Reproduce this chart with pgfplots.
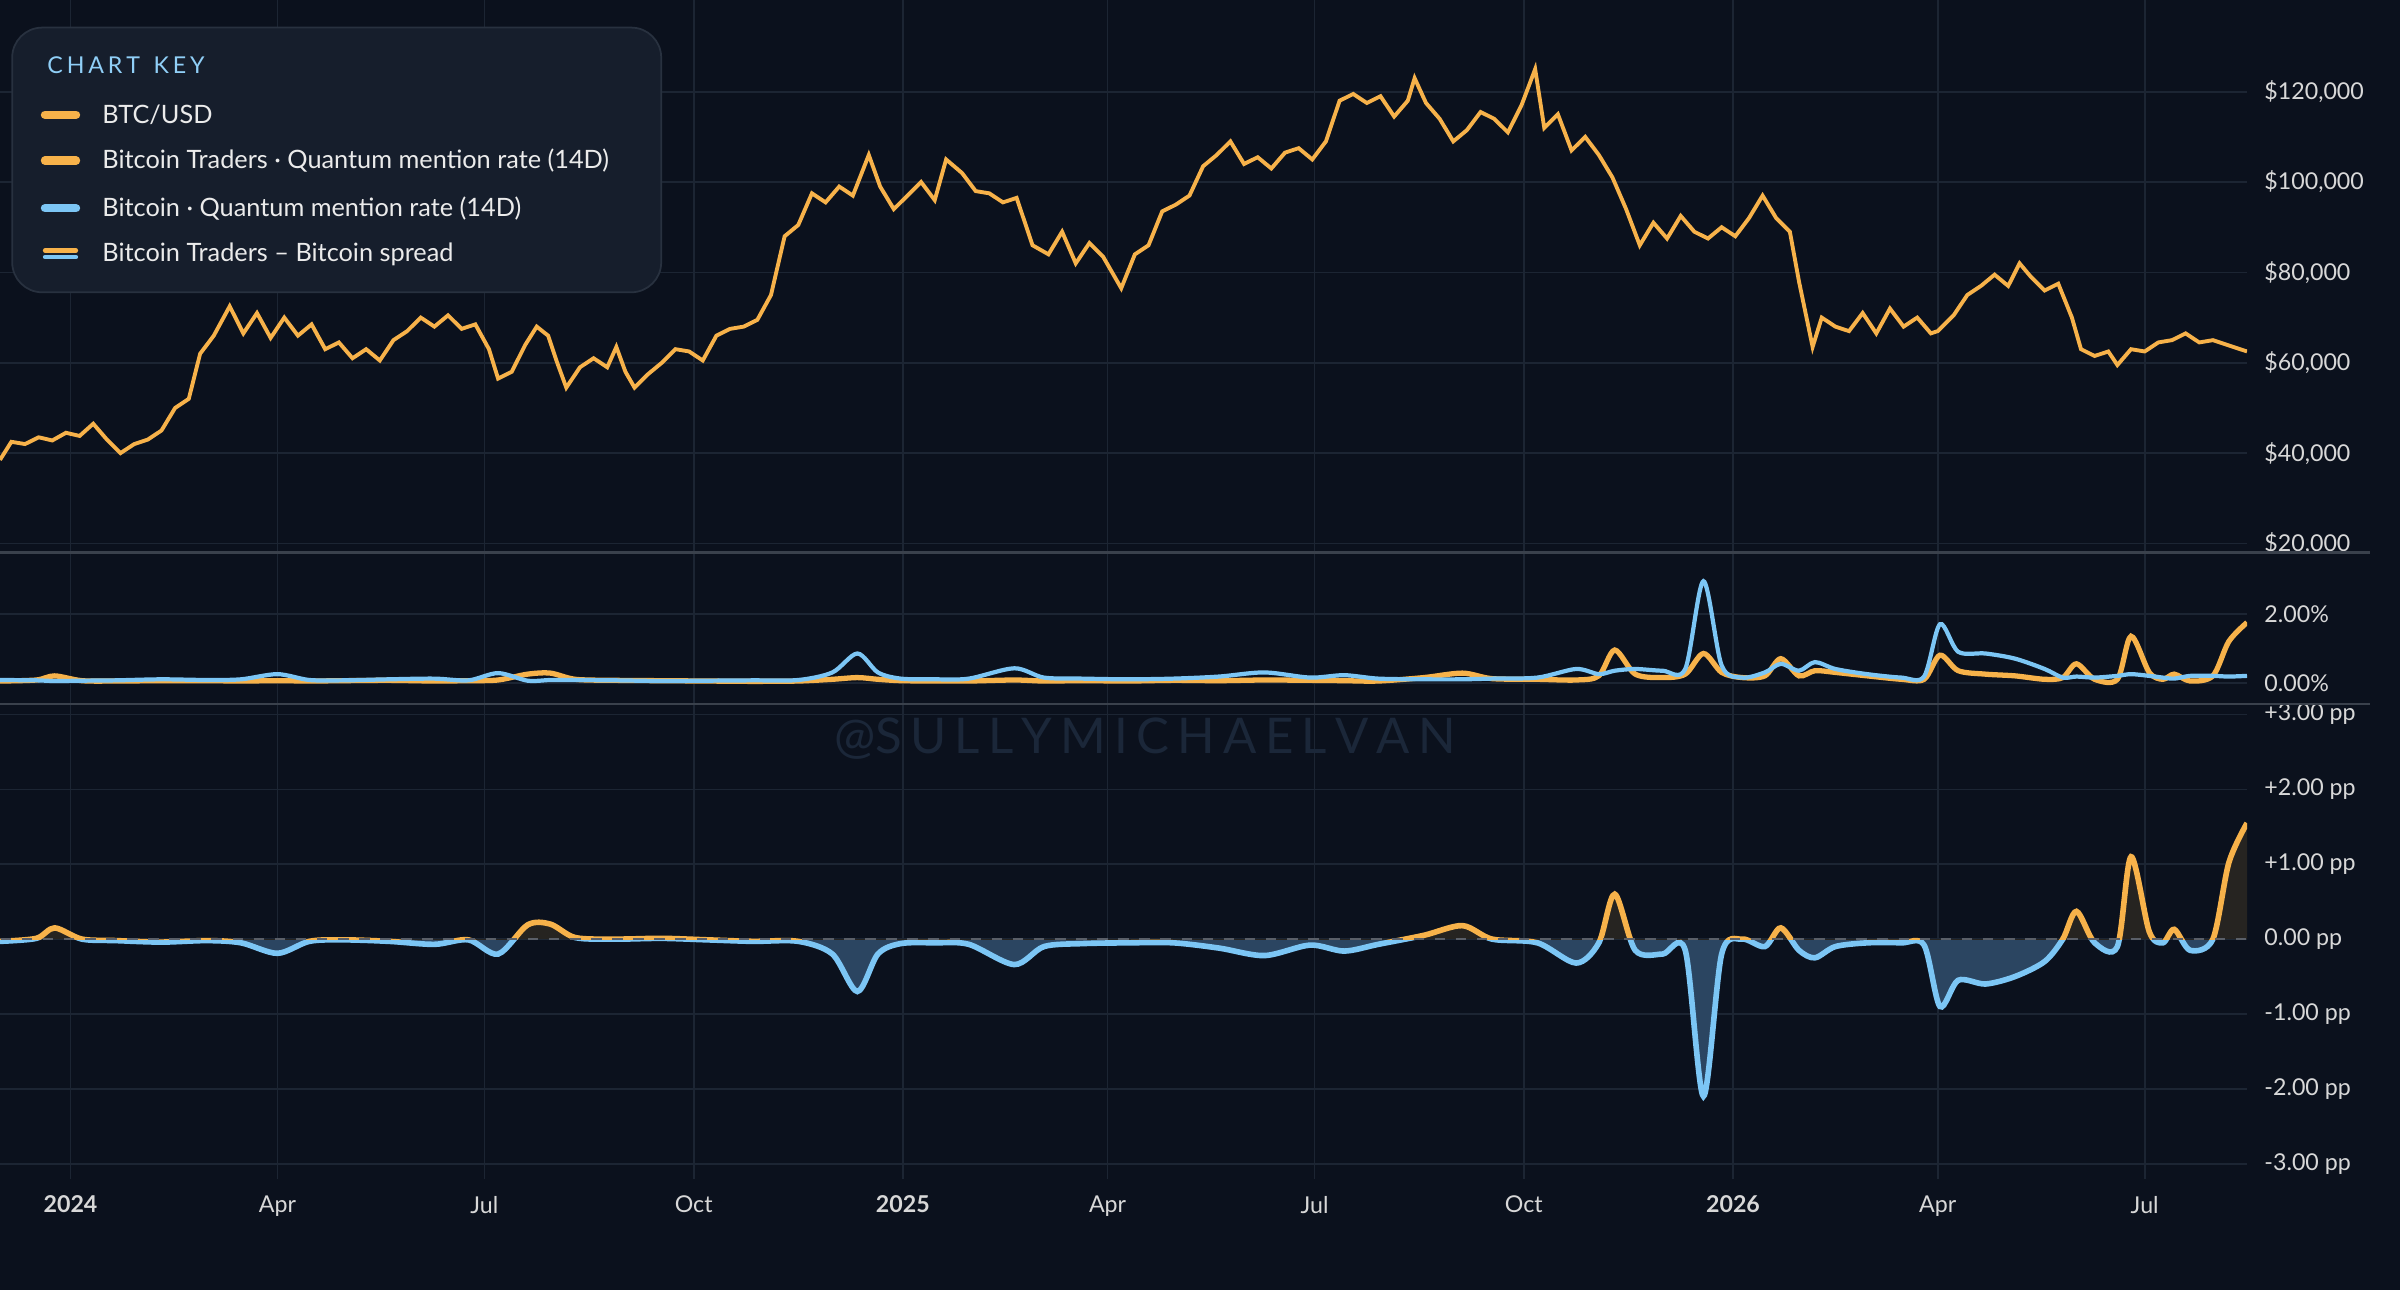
\documentclass[border=0pt]{standalone}
\usepackage{pgfplots}
\pgfplotsset{compat=1.18}
\usepackage{pgfplotstable}
\usepackage{fontspec}
\setmainfont{Lato}
\definecolor{bg}{HTML}{0B111D}
\definecolor{gridc}{HTML}{1C2533}
\definecolor{org}{HTML}{F7B24A}
\definecolor{blu}{HTML}{7CC6F5}
\definecolor{lab}{HTML}{D8D8D8}
\definecolor{sep}{HTML}{3A414C}
\definecolor{keybg}{HTML}{161E2C}
\definecolor{keybd}{HTML}{28313F}
\definecolor{wm}{HTML}{1B2739}
\definecolor{bfill}{HTML}{2B4561}
\definecolor{ofill}{HTML}{262421}
\pgfplotstableread{
d p
-31 38500
-26 42500
-20 42000
-14 43500
-8 42800
-2 44500
4 43800
10 46500
16 43000
22 40000
28 42000
34 43000
40 45000
46 50000
52 52000
57 62000
63 66000
70 72500
76 66500
82 71000
88 65500
94 70000
100 66000
106 68500
112 63000
118 64500
124 61000
130 63000
136 60500
142 65000
148 67000
154 70000
160 68000
166 70500
172 67500
178 68500
184 63000
188 56500
194 58000
200 64000
205 68000
210 66000
214 60000
218 54500
224 59000
230 61000
236 59000
240 63500
244 58000
248 54500
254 57500
260 60000
266 63000
272 62500
278 60500
284 66000
290 67500
296 68000
302 69500
308 75000
314 88000
320 90500
326 97500
332 95500
338 99000
344 97000
351 106000
356 99000
362 94000
368 97000
374 100000
380 96000
385 105000
392 102000
398 98000
404 97500
410 95500
416 96500
423 86000
430 84000
436 89000
442 82000
448 86500
454 83500
462 76500
468 84000
474 86000
480 93500
486 95000
492 97000
498 103500
504 106000
510 109000
516 104000
522 105500
528 103000
534 106500
540 107500
546 105000
552 109000
558 118000
564 119500
570 117500
576 119000
582 114500
588 118000
591 123000
596 117500
602 114000
608 109000
614 111500
620 115500
626 114000
632 111000
638 117000
644 125000
648 112000
654 115000
660 107000
666 110000
672 106000
678 101000
684 94000
690 86000
696 91000
702 87500
708 92500
714 89000
720 87500
726 90000
732 88000
738 92000
744 97000
750 92000
756 89000
760 78000
766 63500
770 70000
776 68000
782 67000
788 71000
794 66500
800 72000
806 68000
812 70000
818 66500
821 67000
828 70500
834 75000
840 77000
846 79500
852 77000
857 82000
862 79000
868 76000
874 77500
880 70000
884 63000
890 61500
896 62500
900 59500
906 63000
912 62500
918 64500
924 65000
930 66500
936 64500
942 65000
948 64000
954 63000
957 62500
}\price
\pgfplotstableread{
d t b
-31 0.05 0.08
-15 0.08 0.07
-7 0.20 0.05
5 0.06 0.06
20 0.05 0.07
40 0.06 0.10
60 0.06 0.08
75 0.05 0.10
91 0.06 0.25
105 0.05 0.08
120 0.06 0.07
140 0.07 0.10
160 0.05 0.12
175 0.06 0.07
188 0.08 0.28
201 0.25 0.06
211 0.28 0.08
222 0.10 0.08
240 0.07 0.07
260 0.06 0.05
280 0.05 0.06
300 0.04 0.07
320 0.05 0.08
335 0.10 0.30
346 0.15 0.85
355 0.10 0.30
365 0.06 0.12
380 0.05 0.10
395 0.05 0.12
415 0.08 0.42
428 0.05 0.15
445 0.06 0.12
465 0.05 0.10
485 0.07 0.12
505 0.06 0.18
525 0.08 0.30
545 0.07 0.15
560 0.06 0.22
575 0.05 0.12
595 0.15 0.10
612 0.28 0.10
625 0.12 0.12
645 0.10 0.15
662 0.08 0.40
672 0.20 0.25
679 0.95 0.35
688 0.25 0.40
700 0.15 0.35
710 0.25 0.40
718 0.85 2.95
726 0.30 0.50
735 0.15 0.15
745 0.20 0.30
752 0.70 0.55
760 0.20 0.35
767 0.35 0.60
776 0.30 0.40
790 0.20 0.25
805 0.10 0.15
815 0.10 0.18
822 0.80 1.70
830 0.35 0.90
842 0.25 0.85
855 0.20 0.70
868 0.10 0.40
876 0.15 0.15
882 0.55 0.18
890 0.10 0.15
900 0.10 0.20
906 1.35 0.25
914 0.30 0.20
920 0.10 0.15
925 0.25 0.12
932 0.05 0.20
942 0.20 0.20
949 1.20 0.18
957 1.75 0.20
}\rates
\pgfplotsset{
  base/.style={scale only axis, width=22.47cm, xmin=-31, xmax=957,
    axis line style={draw=none}, tick style={draw=none},
    grid=major, major grid style={gridc, line width=0.5pt},
    xtick={0,91,182,274,366,456,547,639,731,821,912},
    xticklabels={}, yticklabel pos=right, scaled y ticks=false,
    ticklabel style={font=\fontsize{6.6}{8}\selectfont, text=lab},
    yticklabel style={anchor=west, xshift=0.05cm},
    clip=true},
}
\begin{document}
\begin{tikzpicture}
\fill[bg] (0,0) rectangle (24,-12.903);
\path[use as bounding box] (0,0) rectangle (24,-12.903);
% panel 1
\begin{axis}[base, at={(0cm,-5.525cm)}, anchor=south west, height=5.525cm,
  ymin=18000, ymax=140300,
  ytick={20000,40000,60000,80000,100000,120000},
  yticklabels={{\$20,000},{\$40,000},{\$60,000},{\$80,000},{\$100,000},{\$120,000}}]
\addplot[org, line width=1.1pt] table[x=d,y=p]{\price};
\end{axis}
% panel 2
\begin{axis}[base, at={(0cm,-7.041cm)}, anchor=south west, height=1.515cm,
  ymin=-0.62, ymax=3.78, ytick={0,2}, yticklabels={0.00\%,2.00\%}]
\addplot[org, line width=1.5pt, smooth, tension=0.5] table[x=d,y=t]{\rates};
\addplot[blu, line width=1.2pt, smooth, tension=0.5] table[x=d,y=b]{\rates};
\end{axis}
% panel 3
\begin{axis}[base, at={(0cm,-11.786cm)}, anchor=south west, height=4.745cm,
  ymin=-3.2, ymax=3.14, ytick={-3,-2,-1,0,1,2,3},
  yticklabels={-3.00 pp,-2.00 pp,-1.00 pp,0.00 pp,+1.00 pp,+2.00 pp,+3.00 pp},
  xticklabels={\textbf{2024},Apr,Jul,Oct,\textbf{2025},Apr,Jul,Oct,\textbf{2026},Apr,Jul},
  xticklabel style={yshift=-0.05cm}]
\begin{scope}
\clip (axis cs:-40,0) rectangle (axis cs:1000,-4);
\addplot[fill=bfill, draw=none, smooth, tension=0.5] table[x=d,y expr=\thisrow{t}-\thisrow{b}]{\rates} \closedcycle;
\addplot[blu, line width=1.6pt, smooth, tension=0.5] table[x=d,y expr=\thisrow{t}-\thisrow{b}]{\rates};
\end{scope}
\begin{scope}
\clip (axis cs:-40,0) rectangle (axis cs:1000,4);
\addplot[fill=ofill, draw=none, smooth, tension=0.5] table[x=d,y expr=\thisrow{t}-\thisrow{b}]{\rates} \closedcycle;
\addplot[org, line width=1.6pt, smooth, tension=0.5] table[x=d,y expr=\thisrow{t}-\thisrow{b}]{\rates};
\end{scope}
\draw[sep!80!lab, dashed, line width=0.4pt] (axis cs:-40,0) -- (axis cs:1000,0);
\end{axis}
% separators
\draw[sep, line width=0.6pt] (0,-5.525) -- (23.7,-5.525);
\draw[sep, line width=0.6pt] (0,-7.041) -- (23.7,-7.041);
% watermark
\node[wm, font=\fontsize{14}{17}\selectfont] at (11.45,-7.39) {@S\,U\,L\,L\,Y\,M\,I\,C\,H\,A\,E\,L\,V\,A\,N};
% legend
\draw[keybd, fill=keybg, rounded corners=0.3cm, line width=0.5pt] (0.122,-0.276) rectangle (6.612,-2.923);
\node[anchor=west, text=blu!85, font=\fontsize{6.6}{8}\selectfont] at (0.35,-0.655) {C\,H\,A\,R\,T\, \,K\,E\,Y};
\foreach \yy/\tt/\cc in {1.148/BTC\slash USD/org, 1.607/Bitcoin Traders · Quantum mention rate (14D)/org, 2.082/Bitcoin · Quantum mention rate (14D)/blu}{
  \draw[\cc, line width=2.4pt, line cap=round] (0.45,-\yy) -- (0.76,-\yy);
  \node[anchor=west, text=white!92!black, font=\fontsize{7.2}{9}\selectfont] at (0.9,-\yy) {\tt};
}
\draw[org, line width=1.2pt, line cap=round] (0.45,-2.505) -- (0.76,-2.505);
\draw[blu, line width=1.2pt, line cap=round] (0.45,-2.570) -- (0.76,-2.570);
\node[anchor=west, text=white!92!black, font=\fontsize{7.2}{9}\selectfont] at (0.9,-2.54) {Bitcoin Traders -- Bitcoin spread};
\end{tikzpicture}
\end{document}
